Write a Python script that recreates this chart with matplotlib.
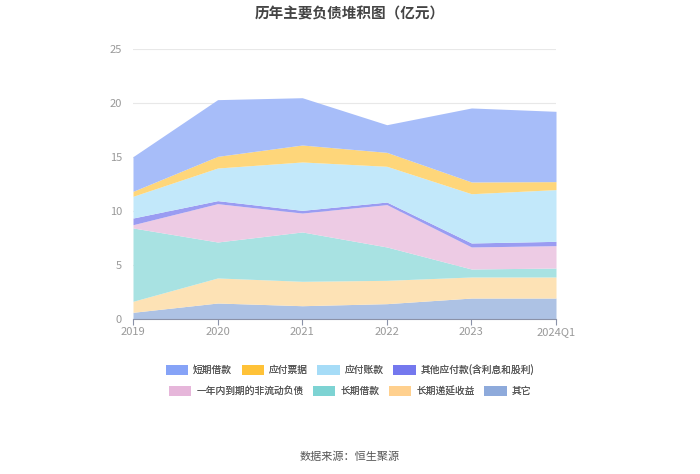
import matplotlib.pyplot as plt
import numpy as np
from matplotlib.patches import Patch

plt.rcParams['font.family'] = ['Noto Sans CJK SC', 'DejaVu Sans']

years = ['2019', '2020', '2021', '2022', '2023', '2024Q1']

# 从下往上堆叠
qita = [0.62, 1.48, 1.23, 1.42, 1.94, 1.94]          # 其它
dyshouyi = [1.02, 2.32, 2.26, 2.16, 1.95, 1.95]      # 长期递延收益
cqjk = [6.79, 3.33, 4.57, 3.09, 0.74, 0.83]          # 长期借款
ynndq = [0.30, 3.55, 1.75, 3.92, 2.04, 2.07]         # 一年内到期的非流动负债
qtyf = [0.62, 0.28, 0.25, 0.24, 0.37, 0.40]          # 其他应付款(含利息和股利)
yfzk = [2.01, 3.02, 4.48, 3.31, 4.56, 4.79]          # 应付账款
yfpj = [0.46, 1.08, 1.57, 1.29, 1.09, 0.74]          # 应付票据
dqjk = [3.21, 5.25, 4.38, 2.56, 6.85, 6.51]          # 短期借款

series = [qita, dyshouyi, cqjk, ynndq, qtyf, yfzk, yfpj, dqjk]
names = ['其它', '长期递延收益', '长期借款', '一年内到期的非流动负债',
         '其他应付款(含利息和股利)', '应付账款', '应付票据', '短期借款']
fill_cols = ['#adc2e4', '#fde2b5', '#a8e2e2', '#edcbe4',
             '#9a9cf2', '#c2e8fa', '#fed67a', '#a7bdf9']
legend_cols = ['#8eaadb', '#ffd08e', '#7dd3d3', '#e6b6da',
               '#7478ee', '#a6dcf7', '#ffc238', '#86a3f7']

fig = plt.figure(figsize=(7, 4.74), dpi=100)
ax = fig.add_axes([133/700, 1-319/474, (556-133)/700, (319-49)/474])

x = np.arange(len(years))
bottom = np.zeros(len(years))
for vals, c in zip(series, fill_cols):
    top = bottom + np.array(vals)
    ax.fill_between(x, bottom, top, color=c, linewidth=0)
    bottom = top

ax.set_xlim(0, len(years)-1)
ax.set_ylim(0, 25)
ax.set_yticks([0, 5, 10, 15, 20, 25])
ax.set_xticks(x)
ax.set_xticklabels(years)
ax.tick_params(axis='y', length=0, labelsize=8, colors='#999999', pad=8)
ax.tick_params(axis='x', length=4, labelsize=8, colors='#999999', pad=2)
ax.tick_params(axis='x', color='#8b92a8')
for s in ['top', 'right', 'left']:
    ax.spines[s].set_visible(False)
ax.spines['bottom'].set_color('#8b92a8')
ax.grid(axis='y', color='#e8e8e8', linewidth=0.8)
ax.set_axisbelow(True)

fig.text(0.5, 1-13/474, '历年主要负债堆积图（亿元）', ha='center', va='center',
         fontsize=10.5, fontweight='bold', color='#444444')

order1 = [7, 6, 5, 4]
order2 = [3, 2, 1, 0]
for row, yy in [(order1, 370), (order2, 391)]:
    handles = [Patch(facecolor=legend_cols[i], edgecolor='none') for i in row]
    leg = fig.legend(handles, [names[i] for i in row], loc='center',
                     bbox_to_anchor=(0.5, 1-yy/474), ncol=4, frameon=False,
                     fontsize=7, handlelength=2.3, handleheight=1.2,
                     columnspacing=1.0, handletextpad=0.5, labelcolor='#555555')
    fig.add_artist(leg)

fig.text(0.5, 1-457/474, '数据来源：恒生聚源', ha='center', va='center',
         fontsize=8, color='#555555')

fig.savefig('out.png', dpi=100)
